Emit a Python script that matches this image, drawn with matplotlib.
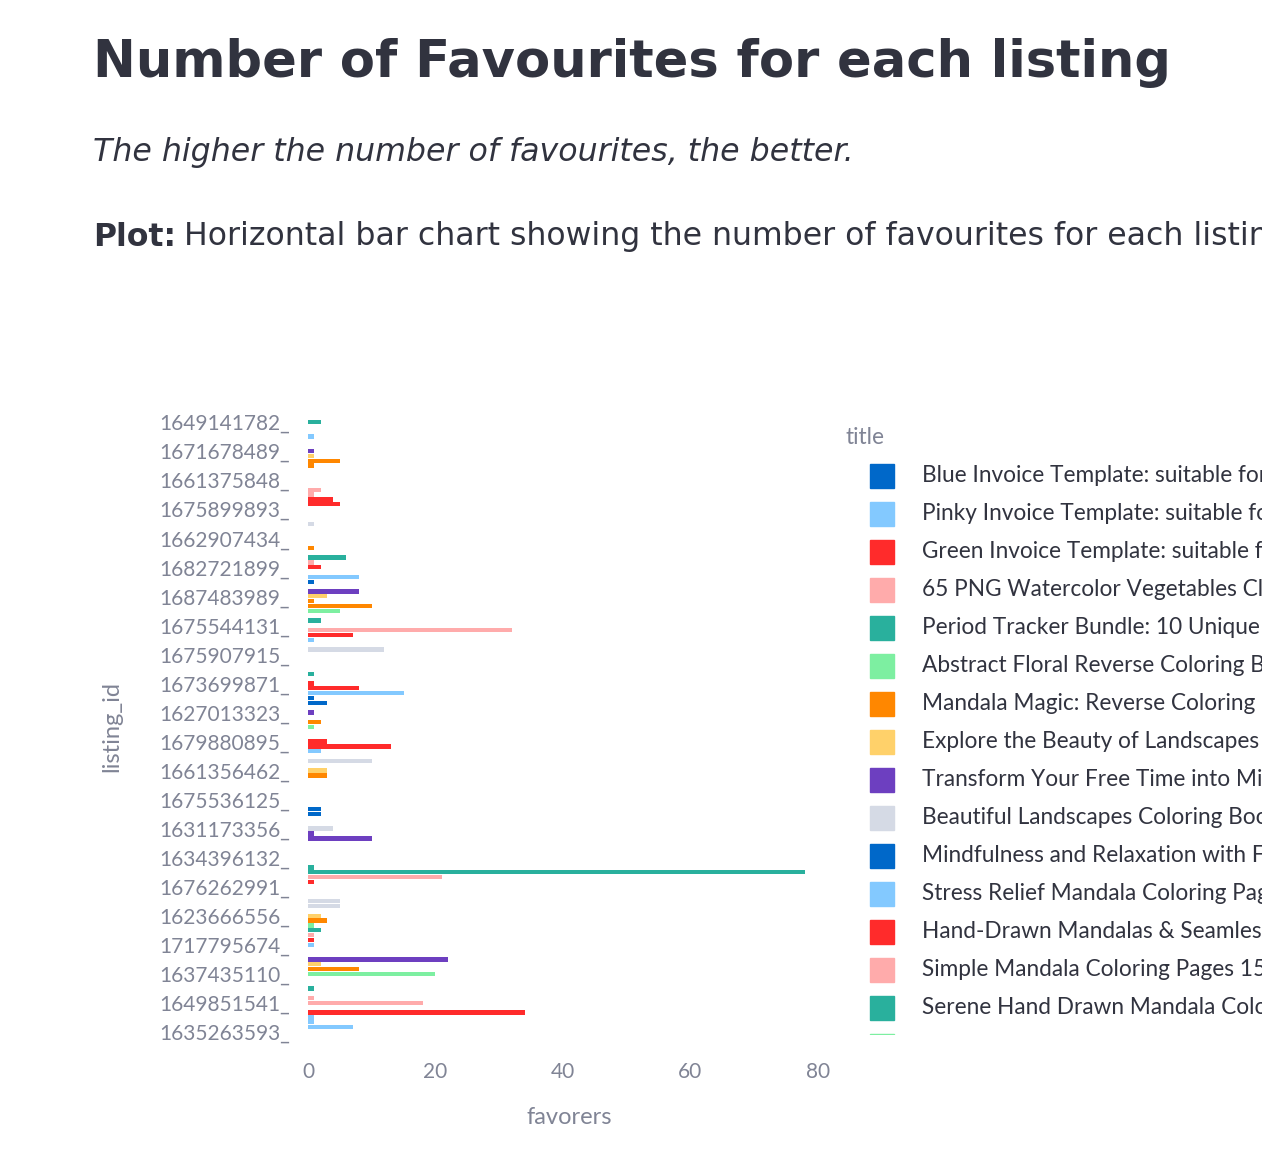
import numpy as np
import matplotlib
matplotlib.use("Agg")
import matplotlib.pyplot as plt
from matplotlib.patches import Rectangle
from matplotlib.transforms import Bbox, TransformedBbox

W, H = 1262, 1172

# streamlit colour cycle
palette = ["#0068C9", "#83C9FF", "#FF2B2B", "#FFABAB", "#29B09D",
           "#7DEFA1", "#FF8700", "#FFD16A", "#6D3FC0", "#D5DAE5"]

listing_ids = ["1649141782_", "1671678489_", "1661375848_", "1675899893_",
               "1662907434_", "1682721899_", "1687483989_", "1675544131_",
               "1675907915_", "1673699871_", "1627013323_", "1679880895_",
               "1661356462_", "1675536125_", "1631173356_", "1634396132_",
               "1676262991_", "1623666556_", "1717795674_", "1637435110_",
               "1649851541_", "1635263593_"]

titles = ["Blue Invoice Template: suitable for small business",
          "Pinky Invoice Template: suitable for small business",
          "Green Invoice Template: suitable for small business",
          "65 PNG Watercolor Vegetables Clipart",
          "Period Tracker Bundle: 10 Unique Trackers",
          "Abstract Floral Reverse Coloring Book",
          "Mandala Magic: Reverse Coloring Pages",
          "Explore the Beauty of Landscapes",
          "Transform Your Free Time into Mindful Art",
          "Beautiful Landscapes Coloring Book",
          "Mindfulness and Relaxation with Flowers",
          "Stress Relief Mandala Coloring Pages",
          "Hand-Drawn Mandalas & Seamless Patterns",
          "Simple Mandala Coloring Pages 15",
          "Serene Hand Drawn Mandala Coloring",
          "Abstract Floral Coloring Pages"]
title_colour = [i % 10 for i in range(len(titles))]

# grouped-bar sub rows (6 per listing), colour index and number of favourites
bar_row = [0, 3, 6, 7, 8, 9, 14, 15, 16, 17, 21, 26, 28, 29, 30, 32, 33,
           35, 36, 37, 38, 39, 41, 43, 44, 45, 47, 52, 54, 55, 56, 57, 58,
           60, 62, 63, 66, 67, 68, 70, 72, 73, 80, 81, 84, 85, 86, 92, 93,
           94, 95, 99, 100, 102, 103, 104, 105, 106, 107, 108, 111, 112,
           113, 114, 117, 119, 120, 122, 123, 124, 125]
bar_colour = [4, 1, 8, 7, 6, 6, 3, 3, 2, 2, 9, 6, 4, 3, 2, 1, 0,
              8, 7, 6, 6, 5, 4, 3, 2, 1, 9, 4, 2, 2, 1, 0, 0,
              8, 6, 5, 2, 2, 1, 9, 7, 6, 0, 0, 9, 8, 8, 4, 4,
              3, 2, 9, 9, 7, 6, 5, 4, 3, 2, 1, 8, 7,
              6, 5, 4, 3, 3, 2, 1, 1, 1]
favorers = [2, 1, 1, 1, 5, 1, 2, 1, 4, 5, 1, 1, 6, 1, 2, 8, 1,
            8, 3, 1, 10, 5, 2, 32, 7, 1, 12, 1, 1, 8, 15, 1, 3,
            1, 2, 1, 3, 13, 2, 10, 3, 3, 2, 2, 4, 1, 10, 1, 78,
            21, 1, 5, 5, 2, 3, 1, 2, 1, 1, 1, 22, 2,
            8, 20, 1, 1, 18, 34, 1, 1, 7]

dark = "#31333F"
grey = "#808495"
plt.rcParams["font.family"] = ["Lato", "DejaVu Sans"]

fig = plt.figure(figsize=(W / 100, H / 100), dpi=100)
fig.patch.set_facecolor("white")

# headings
fig.text(93 / W, 1 - 63 / H, "Number of Favourites for each listing",
         fontsize=36.8, fontweight="bold", color=dark, va="center", ha="left",
         family=["DejaVu Sans"])
fig.text(93 / W, 1 - 153 / H, "The higher the number of favourites, the better.",
         fontsize=22.8, style="italic", color=dark, va="center", ha="left",
         family=["DejaVu Sans"])
t = fig.text(93 / W, 1 - 237 / H, "Plot:", fontsize=22.7, fontweight="bold",
             color=dark, va="center", ha="left", family=["DejaVu Sans"])
fig.canvas.draw()
bb = t.get_window_extent()
fig.text((bb.x1 + 8) / W, 1 - 237 / H,
         "Horizontal bar chart showing the number of favourites for each listing.",
         fontsize=22.7, color=dark, va="center", ha="left", family=["DejaVu Sans"])

# bar chart
ax = fig.add_axes([308 / W, 1 - 1046.5 / H, (831 - 308) / W, (1046.5 - 407.5) / H])
ax.barh(np.array(bar_row) / 6, favorers, height=0.15,
        color=[palette[c] for c in bar_colour])
ax.set_ylim(len(listing_ids) - 0.5, -0.5)
ax.set_xlim(0, 82.04)
ax.set_yticks(range(len(listing_ids)))
ax.set_yticklabels(listing_ids)
ax.set_xticks([0, 20, 40, 60, 80])
ax.tick_params(axis="both", length=0, labelsize=15, labelcolor=grey)
ax.tick_params(axis="y", pad=13)
ax.tick_params(axis="x", pad=11)
for s in ax.spines.values():
    s.set_visible(False)
ax.set_xlabel("favorers", fontsize=17, color=grey)
ax.xaxis.set_label_coords(0.5, -(1118 - 1046.5) / (1046.5 - 407.5))
ax.xaxis.label.set_va("center")
ax.set_ylabel("listing_id", fontsize=17, color=grey)
ax.yaxis.set_label_coords(-(308 - 112) / 523, 0.5)
ax.yaxis.label.set_va("center")

# legend, clipped at the plot bottom like the original
lax = fig.add_axes([846 / W, 1 - 1035 / H, (W - 846) / W, (1035 - 420) / H])
lax.set_xlim(846, W)
lax.set_ylim(1035, 420)
lax.axis("off")
text_box = TransformedBbox(Bbox([[846, 420], [W, 1028]]), lax.transData)
lax.text(846, 437, "title", fontsize=16.3, color=grey, va="center", ha="left")
for i, (name, c) in enumerate(zip(titles, title_colour)):
    y = 476 + 38 * i
    lax.add_patch(Rectangle((870, y - 12.5), 24, 24, color=palette[c], clip_on=True))
    lbl = lax.text(922, y, name, fontsize=16.3, color=dark, va="center", ha="left",
                   clip_on=True)
    lbl.set_clip_box(text_box)

fig.savefig("out.png", dpi=100)
